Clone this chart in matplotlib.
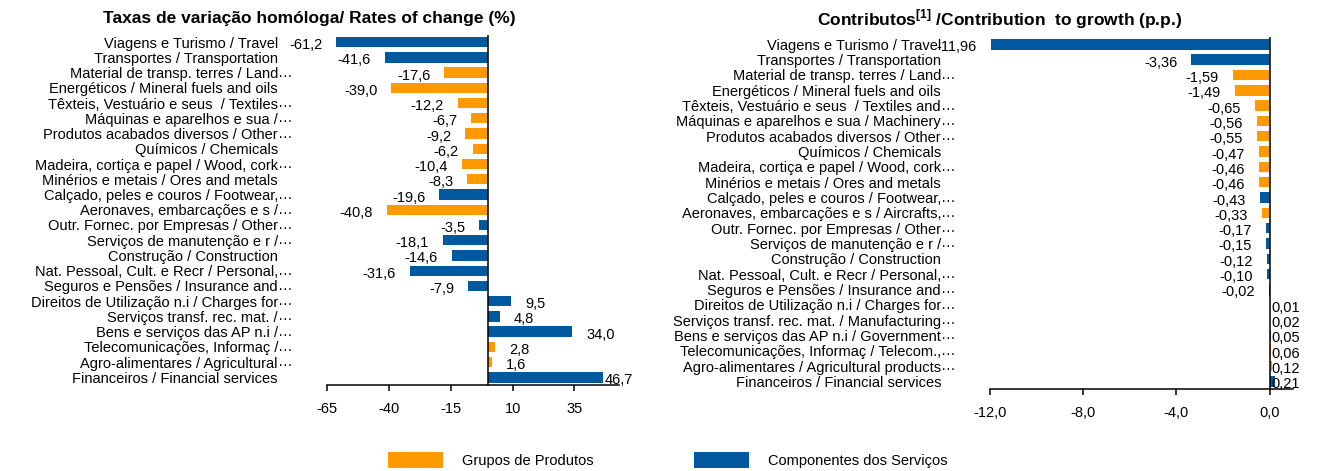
import numpy as np
import matplotlib
matplotlib.use("Agg")
import matplotlib.pyplot as plt
from matplotlib.patches import Patch

plt.rcParams['font.family'] = ['Liberation Sans', 'DejaVu Sans']
plt.rcParams['mathtext.fontset'] = 'custom'
plt.rcParams['mathtext.bf'] = 'Liberation Sans:bold'
plt.rcParams['mathtext.rm'] = 'Liberation Sans'

ORANGE = '#FF9900'
BLUE = '#00589F'

# P = Grupos de Produtos, S = Componentes dos Serviços
groups = ['S', 'S', 'P', 'P', 'P', 'P', 'P', 'P', 'P', 'P', 'S', 'P',
          'S', 'S', 'S', 'S', 'S', 'S', 'S', 'S', 'P', 'P', 'S']

# (label text, truncated?) -- truncated labels get an ellipsis after them
labels_left = [
    ('Viagens e Turismo / Travel', False),
    ('Transportes / Transportation', False),
    ('Material de transp. terres / Land', True),
    ('Energéticos / Mineral fuels and oils', False),
    ('Têxteis, Vestuário e seus  / Textiles', True),
    ('Máquinas e aparelhos e sua /', True),
    ('Produtos acabados diversos / Other', True),
    ('Químicos / Chemicals', False),
    ('Madeira, cortiça e papel / Wood, cork', True),
    ('Minérios e metais / Ores and metals', False),
    ('Calçado, peles e couros / Footwear,', True),
    ('Aeronaves, embarcações e s /', True),
    ('Outr. Fornec. por Empresas / Other', True),
    ('Serviços de manutenção e r /', True),
    ('Construção / Construction', False),
    ('Nat. Pessoal, Cult. e Recr / Personal,', True),
    ('Seguros e Pensões / Insurance and', True),
    ('Direitos de Utilização n.i / Charges for', True),
    ('Serviços transf. rec. mat. /', True),
    ('Bens e serviços das AP n.i /', True),
    ('Telecomunicações, Informaç /', True),
    ('Agro-alimentares / Agricultural', True),
    ('Financeiros / Financial services', False),
]
labels_right = [
    ('Viagens e Turismo / Travel', False),
    ('Transportes / Transportation', False),
    ('Material de transp. terres / Land', True),
    ('Energéticos / Mineral fuels and oils', False),
    ('Têxteis, Vestuário e seus  / Textiles and', True),
    ('Máquinas e aparelhos e sua / Machinery', True),
    ('Produtos acabados diversos / Other', True),
    ('Químicos / Chemicals', False),
    ('Madeira, cortiça e papel / Wood, cork', True),
    ('Minérios e metais / Ores and metals', False),
    ('Calçado, peles e couros / Footwear,', True),
    ('Aeronaves, embarcações e s / Aircrafts,', True),
    ('Outr. Fornec. por Empresas / Other', True),
    ('Serviços de manutenção e r /', True),
    ('Construção / Construction', False),
    ('Nat. Pessoal, Cult. e Recr / Personal,', True),
    ('Seguros e Pensões / Insurance and', True),
    ('Direitos de Utilização n.i / Charges for', True),
    ('Serviços transf. rec. mat. / Manufacturing', True),
    ('Bens e serviços das AP n.i / Government', True),
    ('Telecomunicações, Informaç / Telecom.,', True),
    ('Agro-alimentares / Agricultural products', True),
    ('Financeiros / Financial services', False),
]

rates = [-61.2, -41.6, -17.6, -39.0, -12.2, -6.7, -9.2, -6.2, -10.4, -8.3,
         -19.6, -40.8, -3.5, -18.1, -14.6, -31.6, -7.9, 9.5, 4.8, 34.0,
         2.8, 1.6, 46.7]
contribs = [-11.96, -3.36, -1.59, -1.49, -0.65, -0.56, -0.55, -0.47, -0.46,
            -0.46, -0.43, -0.33, -0.17, -0.15, -0.12, -0.10, -0.02, 0.01,
            0.02, 0.05, 0.06, 0.12, 0.21]

rate_ticks = [-65, -40, -15, 10, 35]
contrib_ticks = [-12.0, -8.0, -4.0, 0.0]

DPI = 100
fig = plt.figure(figsize=(13.2, 4.71), dpi=DPI)
FS = 10.5
LABEL_PAD_PX = 49


def px(p):
    return p * 72.0 / DPI


def draw_panel(ax, values, labels, xlim, ticks, tick_fmt, val_fmt, title, room_px):
    colors = [ORANGE if g == 'P' else BLUE for g in groups]
    y = np.arange(len(values))
    ax.barh(y, values, height=0.68, color=colors, zorder=2)
    ax.set_xlim(*xlim)
    ax.set_ylim(len(values) - 0.5, -0.5)
    ax.axvline(0, color='black', lw=1.1, zorder=3)

    for s in ['top', 'right', 'left']:
        ax.spines[s].set_visible(False)
    ax.spines['bottom'].set_linewidth(1.1)
    ax.set_xticks(ticks)
    ax.set_xticklabels([(tick_fmt % t).replace('.', ',') for t in ticks], fontsize=FS)
    ax.tick_params(axis='x', direction='out', length=4, width=1.1, pad=8)

    ax.set_yticks(y)
    ax.set_yticklabels([l for l, _ in labels], fontsize=FS)
    ax.tick_params(axis='y', length=0, pad=px(LABEL_PAD_PX))
    for yi, (_, trunc) in zip(y, labels):
        if trunc:
            ax.annotate('\u2026', xy=(0, yi), xycoords=('axes fraction', 'data'),
                        xytext=(-LABEL_PAD_PX, 0), textcoords='offset pixels',
                        ha='left', va='center', fontsize=FS)

    # value labels, Excel-style "outside end", clamped at the right edge
    right_px = ax.transData.transform((xlim[1], 0))[0]
    for yi, v in zip(y, values):
        txt = (val_fmt % v).replace('.', ',')
        end_px = ax.transData.transform((v, 0))[0]
        if v < 0:
            ax.annotate(txt, xy=(v, yi), xytext=(-14, -3),
                        textcoords='offset pixels', ha='right', va='center',
                        fontsize=FS)
        else:
            x_px = min(end_px + 14, right_px - room_px)
            ax.annotate(txt, xy=(v, yi), xytext=(x_px - end_px, -3),
                        textcoords='offset pixels', ha='left', va='center',
                        fontsize=FS)
    ax.set_title(title, fontsize=12.5, fontweight='bold', pad=8)


ax1 = fig.add_axes([327 / 1320, 1 - 385 / 471, 292 / 1320, 350.5 / 471])
draw_panel(ax1, rates, labels_left, (-65, 53), rate_ticks, '%d', '%.1f',
           'Taxas de variação homóloga/ Rates of change (%)', 14)
ax1.title.set_position((-0.06, 1.0))

ax2 = fig.add_axes([990 / 1320, 1 - 389 / 471, 303 / 1320, 352.3 / 471])
draw_panel(ax2, contribs, labels_right, (-12, 1), contrib_ticks, '%.1f', '%.2f',
           r'Contributos$^{\mathbf{[1]}}$ /Contribution  to growth (p.p.)', 22)
ax2.title.set_position((0.03, 1.0))

handles = [Patch(facecolor=ORANGE, edgecolor='none', label='Grupos de Produtos'),
           Patch(facecolor=BLUE, edgecolor='none', label='Componentes dos Serviços')]
fig.legend(handles=handles, loc='center', bbox_to_anchor=(668 / 1320, 1 - 460 / 471),
           ncol=2, frameon=False, fontsize=FS, handlelength=3.96 * 10 / FS,
           handleheight=1.3 * 10 / FS, handletextpad=1.37 * 10 / FS,
           columnspacing=7.2 * 10 / FS)

fig.savefig('out.png', dpi=DPI)
